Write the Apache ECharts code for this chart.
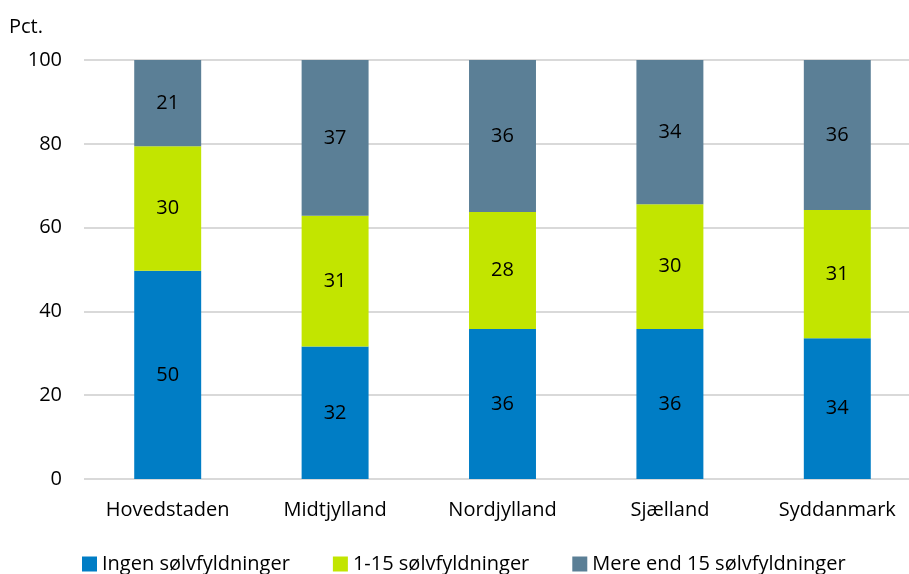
<!DOCTYPE html>
<html><head><meta charset="utf-8">
<script src="https://cdn.jsdelivr.net/npm/echarts@6/dist/echarts.min.js"></script>
<style>html,body{margin:0;padding:0;background:#fff;overflow:hidden}#c{width:922px;height:574px}</style>
</head><body><div id="c"></div>
<script>
const categories = ['Hovedstaden','Midtjylland','Nordjylland','Sjælland','Syddanmark'];
const ingen = [49.7, 31.6, 35.8, 35.8, 33.6];
const mellem = [29.7, 31.2, 27.9, 29.8, 30.6];
const mere = [20.6, 37.2, 36.3, 34.4, 35.8];
const seriesNames = ['Ingen sølvfyldninger','1-15 sølvfyldninger','Mere end 15 sølvfyldninger'];
const yAxisTitle = 'Pct.';
const colors = ['#007DC5','#C2E500','#5B7F96'];
const font = 'Open Sans, Noto Sans, sans-serif';
const chart = echarts.init(document.getElementById('c'));
const mk = (name, data, i) => ({
  name, type: 'bar', stack: 'a', data, barWidth: '40%',
  itemStyle: {color: colors[i]},
  label: {show: true, position: 'inside', color: '#000', fontSize: 20, fontFamily: font,
    formatter: p => Math.round(p.value)}
});
chart.setOption({
  animation: false,
  textStyle: {fontFamily: font},
  grid: {left: 84, right: 1, top: 60, bottom: 95},
  graphic: [{type: 'text', left: 9, top: 17,
    style: {text: yAxisTitle, fontSize: 20, fill: '#000', fontFamily: font}}],
  legend: {top: 549, left: 77, itemWidth: 15, itemHeight: 15, itemGap: 43,
    icon: 'rect', textStyle: {fontSize: 20, color: '#000', fontFamily: font}},
  xAxis: {type: 'category', data: categories,
    axisLine: {show: false}, axisTick: {show: false},
    axisLabel: {fontSize: 20, color: '#000', margin: 21, fontFamily: font}},
  yAxis: {type: 'value', min: 0, max: 100, interval: 20,
    axisLabel: {fontSize: 20, color: '#000', margin: 22, fontFamily: font},
    splitLine: {lineStyle: {color: '#D9D9D9', width: 2}}},
  series: [mk(seriesNames[0], ingen, 0), mk(seriesNames[1], mellem, 1), mk(seriesNames[2], mere, 2)]
});
</script></body></html>
